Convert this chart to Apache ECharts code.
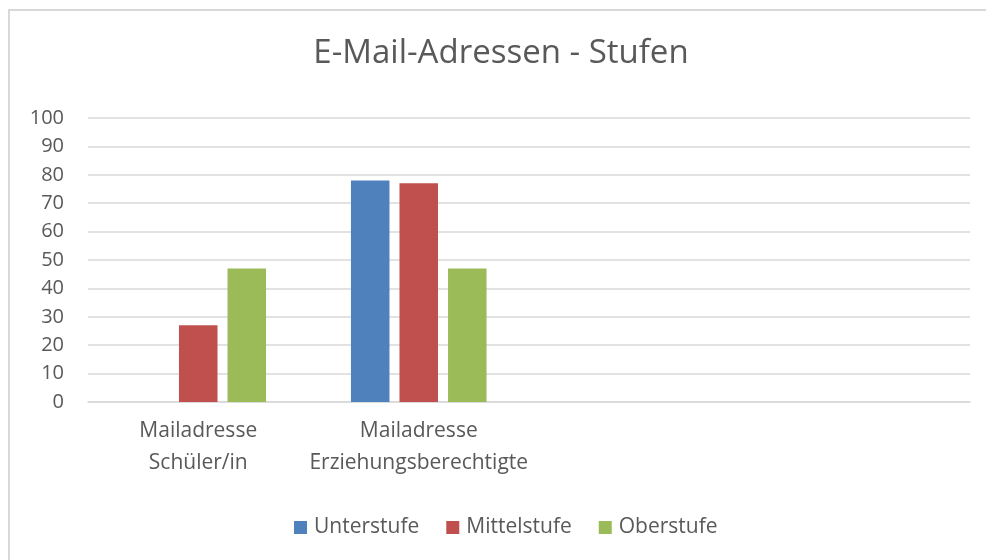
<!DOCTYPE html>
<html>
<head>
<meta charset="utf-8">
<script src="https://cdn.jsdelivr.net/npm/echarts@6/dist/echarts.min.js"></script>
<style>html,body{margin:0;padding:0;background:#fff}#chart{width:986px;height:560px}</style>
</head>
<body>
<div id="chart"></div>
<script>
const titleText = 'E-Mail-Adressen - Stufen';
const categories = ['Mailadresse\nSchüler/in', 'Mailadresse\nErziehungsberechtigte', '', ''];
const seriesNames = ['Unterstufe', 'Mittelstufe', 'Oberstufe'];
const unterstufe = [0, 78, null, null];
const mittelstufe = [27, 77, null, null];
const oberstufe = [47, 47, null, null];
const yTicks = { min: 0, max: 100, interval: 10 };

const colors = ['#4F81BD', '#C0504D', '#9BBB59'];
const textColor = '#595959';
const font = 'Open Sans';

const chart = echarts.init(document.getElementById('chart'), null, { renderer: 'canvas' });
const values = [unterstufe, mittelstufe, oberstufe];
chart.setOption({
  animation: false,
  backgroundColor: '#fff',
  color: colors,
  title: {
    text: titleText,
    left: 501,
    textAlign: 'center',
    top: 34,
    padding: 0,
    textStyle: { fontFamily: font, fontSize: 33, fontWeight: 'normal', color: textColor, lineHeight: 40 }
  },
  graphic: [{
    type: 'rect', silent: true, z: -1,
    shape: { x: 9, y: 10, width: 1000, height: 600 },
    style: { fill: null, stroke: '#D9D9D9', lineWidth: 2 }
  }],
  legend: {
    data: seriesNames,
    left: 294,
    top: 517,
    padding: 0,
    itemWidth: 13,
    itemHeight: 13,
    itemGap: 27,
    icon: 'rect',
    textStyle: { fontFamily: font, fontSize: 21, color: textColor, lineHeight: 21, padding: [0, 0, 0, 2] }
  },
  grid: { left: 88, right: 16, top: 118, bottom: 158, containLabel: false },
  xAxis: {
    type: 'category',
    data: categories,
    axisLine: { show: true, lineStyle: { color: '#D9D9D9', width: 1.5 } },
    axisTick: { show: false },
    axisLabel: { fontFamily: font, fontSize: 21, color: textColor, lineHeight: 32, margin: 13, interval: 0 }
  },
  yAxis: {
    type: 'value',
    min: yTicks.min, max: yTicks.max, interval: yTicks.interval,
    axisLine: { show: false },
    axisTick: { show: false },
    splitLine: { lineStyle: { color: '#D9D9D9', width: 1.5 } },
    axisLabel: { fontFamily: font, fontSize: 20, color: textColor, margin: 24 }
  },
  series: seriesNames.map((n, i) => ({
    name: n,
    type: 'bar',
    data: values[i],
    barGap: '26%',
    barCategoryGap: '38.5%',
    itemStyle: { color: colors[i] }
  }))
});
</script>
</body>
</html>
